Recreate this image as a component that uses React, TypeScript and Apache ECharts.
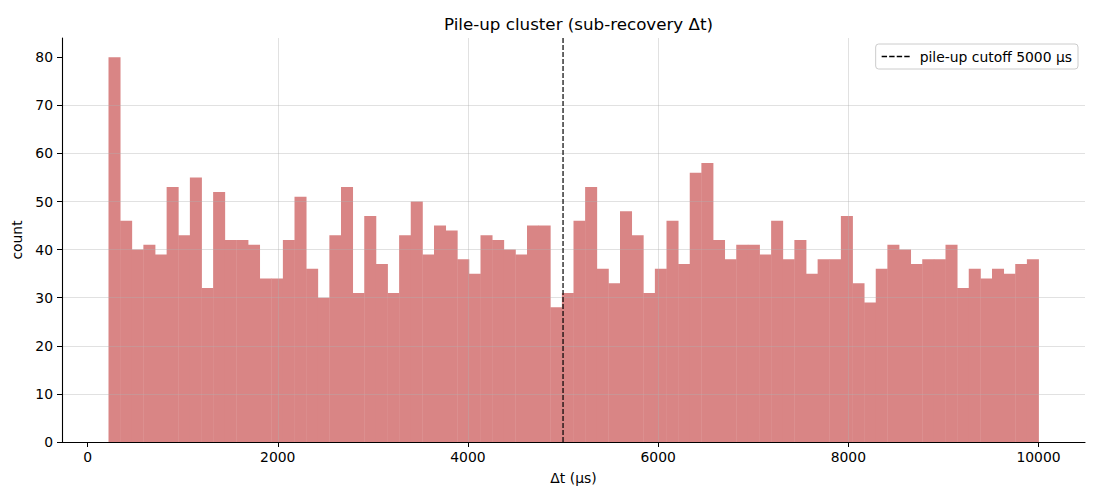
import React, { useEffect, useRef } from "react";
import * as echarts from "echarts";

const binStart = 220;
const binEnd = 10000;
const counts = [
  80, 46, 40, 41, 39, 53, 43, 55, 32, 52,
  42, 42, 41, 34, 34, 42, 51, 36, 30, 43,
  53, 31, 47, 37, 31, 43, 50, 39, 45, 44,
  38, 35, 43, 42, 40, 39, 45, 45, 28, 31,
  46, 53, 36, 33, 48, 43, 31, 36, 46, 37,
  56, 58, 42, 38, 41, 41, 39, 46, 38, 42,
  35, 38, 38, 47, 33, 29, 36, 41, 40, 37,
  38, 38, 41, 32, 36, 34, 36, 35, 37, 38,
];
const cutoff = 5000;
const cutoffLabel = "pile-up cutoff 5000 μs";
const xTicks = [0, 2000, 4000, 6000, 8000, 10000];
const yTicks = [0, 10, 20, 30, 40, 50, 60, 70, 80];
const xMin = -269;
const xMax = 10489;
const yMax = 84;

const FONT = "DejaVu Sans";
const DASH_ICON = "path://M0 0h5v1.3H0z M7 0h5v1.3H7z M14 0h5v1.3h-5z M21 0h5v1.3h-5z";

export default function App() {
  const ref = useRef<HTMLDivElement>(null);
  useEffect(() => {
    if (!ref.current) return;
    const chart = echarts.init(ref.current, undefined, { renderer: "svg" });
    const w = (binEnd - binStart) / counts.length;
    const bins = counts.map((c, i) => [binStart + i * w, binStart + (i + 1) * w, c]);
    const gridLine = { show: true, showMinLine: false, showMaxLine: false, lineStyle: { color: "rgba(176,176,176,0.38)", width: 1 } };
    chart.setOption({
      animation: false,
      backgroundColor: "#ffffff",
      textStyle: { fontFamily: FONT },
      title: {
        text: "Pile-up cluster (sub-recovery Δt)",
        left: 573.5,
        top: 10,
        textAlign: "center",
        textStyle: { fontSize: 16.7, fontWeight: "normal", color: "#000", fontFamily: FONT },
      },
      grid: { left: 62, right: 15, top: 38, bottom: 58, containLabel: false },
      legend: {
        data: [{ name: cutoffLabel, icon: DASH_ICON }],
        right: 22,
        top: 44,
        padding: [5.5, 6],
        itemWidth: 28,
        itemHeight: 14,
        backgroundColor: "#fff",
        borderColor: "#cccccc",
        borderWidth: 1,
        borderRadius: 3,
        itemStyle: { color: "#000" },
        textStyle: { fontSize: 13.9, color: "#000", fontFamily: FONT, padding: [0, 0, 0, 5] },
      },
      xAxis: {
        type: "value",
        min: xMin,
        max: xMax,
        z: 3,
        name: "Δt (μs)",
        nameLocation: "middle",
        nameGap: 29,
        nameTextStyle: { fontSize: 13.9, color: "#000", fontFamily: FONT },
        axisLine: { show: true, onZero: false, lineStyle: { color: "#000", width: 1.1 } },
        axisTick: { show: true, length: 5, customValues: xTicks, lineStyle: { color: "#000", width: 1 } },
        axisLabel: { customValues: xTicks, formatter: (v: number) => String(v), color: "#000", fontSize: 13.9, margin: 8, fontFamily: FONT },
        splitLine: gridLine,
      },
      yAxis: {
        type: "value",
        min: 0,
        max: yMax,
        z: 3,
        name: "count",
        nameLocation: "middle",
        nameGap: 30,
        nameTextStyle: { fontSize: 13.9, color: "#000", fontFamily: FONT },
        axisLine: { show: true, onZero: false, lineStyle: { color: "#000", width: 1.1 } },
        axisTick: { show: true, length: 5, customValues: yTicks, lineStyle: { color: "#000", width: 1 } },
        axisLabel: { customValues: yTicks, formatter: (v: number) => String(v), color: "#000", fontSize: 13.9, margin: 9, fontFamily: FONT },
        splitLine: gridLine,
      },
      series: [
        {
          type: "custom",
          z: 1,
          data: bins,
          encode: { x: [0, 1], y: 2 },
          renderItem: (_params: any, api: any) => {
            const p0 = api.coord([api.value(0), api.value(2)]);
            const p1 = api.coord([api.value(1), 0]);
            return {
              type: "rect",
              shape: { x: p0[0], y: p0[1], width: p1[0] - p0[0] + 0.4, height: p1[1] - p0[1] },
              style: { fill: "#d98585" },
            };
          },
        },
        {
          type: "line",
          name: cutoffLabel,
          z: 5,
          symbol: "none",
          data: [[cutoff, 0], [cutoff, yMax]],
          lineStyle: { color: "#000", width: 1.2, type: [5, 2] },
          itemStyle: { color: "#000" },
        },
      ],
    });
    return () => chart.dispose();
  }, []);
  return <div ref={ref} style={{ position: "absolute", left: 0, top: 0, width: 1100, height: 500 }} />;
}
